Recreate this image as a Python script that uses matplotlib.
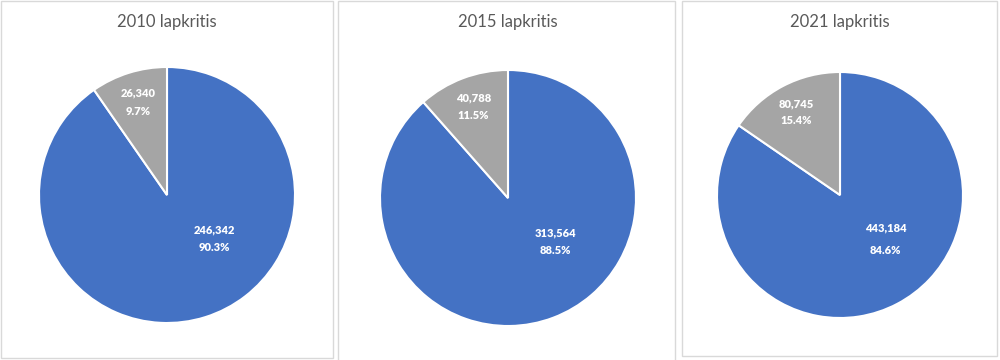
import matplotlib
matplotlib.use('Agg')
import matplotlib.pyplot as plt
from matplotlib.patches import Rectangle
import numpy as np

plt.rcParams['font.family'] = ['Lato', 'DejaVu Sans']

# data
titles = ['2010 lapkritis', '2015 lapkritis', '2021 lapkritis']
blue_vals = [246342, 313564, 443184]
gray_vals = [26340, 40788, 80745]
blue_pct = ['90.3%', '88.5%', '84.6%']
gray_pct = ['9.7%', '11.5%', '15.4%']

colors = ['#4472C4', '#A5A5A5']
W, H = 1000, 360

# layout in pixels: panel frame (x0, y0, x1, y1), pie center and radius
panels = [(1, 1, 333, 358), (338, 1, 675, 362), (682, 1, 997, 356)]
pies = [(167, 195, 128), (508, 198, 128), (840, 195, 123)]
blue_gap = [0.14, 0.14, 0.18]

fig = plt.figure(figsize=(10, 3.6), dpi=100)
lbl = dict(ha='center', va='center', color='white', fontsize=8, fontweight='heavy')

for i in range(3):
    x0, y0, x1, y1 = panels[i]
    fig.patches.append(Rectangle((x0 / W, 1 - y1 / H), (x1 - x0) / W, (y1 - y0) / H,
                                 transform=fig.transFigure, fill=False,
                                 edgecolor='#D9D9D9', lw=1.0))
    cx, cy, r = pies[i]
    ax = fig.add_axes([(cx - r) / W, 1 - (cy + r) / H, 2 * r / W, 2 * r / H])
    vals = [blue_vals[i], gray_vals[i]]
    wedges, _ = ax.pie(vals, colors=colors, startangle=90, counterclock=False,
                       wedgeprops=dict(edgecolor='white', linewidth=1.5))
    ax.set_xlim(-1, 1)
    ax.set_ylim(-1, 1)
    ax.axis('off')

    # gray slice label along its middle angle
    w = wedges[1]
    ang = np.deg2rad((w.theta1 + w.theta2) / 2)
    gx, gy = 0.76 * np.cos(ang), 0.76 * np.sin(ang)
    ax.text(gx, gy + 0.07, f'{gray_vals[i]:,}', **lbl)
    ax.text(gx, gy - 0.07, gray_pct[i], **lbl)

    # blue slice label
    ax.text(0.37, -0.27, f'{blue_vals[i]:,}', **lbl)
    ax.text(0.37, -0.27 - blue_gap[i], blue_pct[i], **lbl)

    fig.text(cx / W, 1 - 22 / H, titles[i], ha='center', va='center',
             color='#595959', fontsize=12)

fig.savefig('out.png', dpi=100, facecolor='white')
